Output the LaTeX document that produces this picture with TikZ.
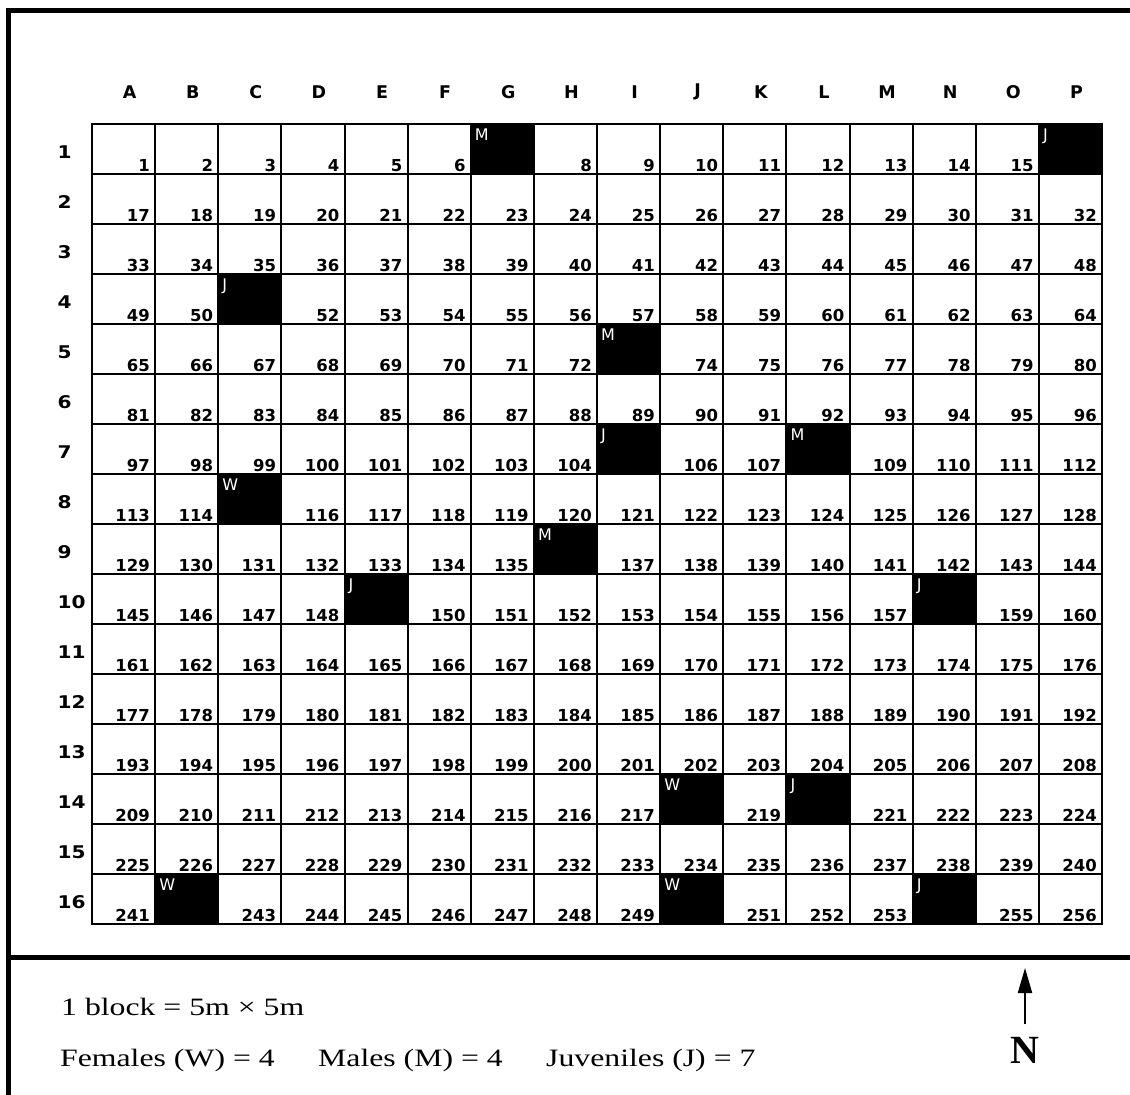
\documentclass[tikz,border=0pt]{standalone}
\usepackage{fontspec}
\setmainfont{Liberation Serif}
\newfontfamily\pixfont{DejaVu Sans}
\usepackage{tikz}
\usetikzlibrary{arrows.meta, positioning}

% occupied blocks: number/letter
\def\occupied{7/M,16/J,51/J,73/M,105/J,108/M,115/W,136/M,149/J,158/J,218/W,220/J,242/W,250/W,254/J}

\begin{document}
\begin{tikzpicture}[
  x=1pt, y=-1pt,
  cell/.style={draw, line width=2pt, minimum width=63.125pt, minimum height=50pt, inner sep=0pt, outer sep=0pt},
  num/.style={font=\pixfont\bfseries\fontsize{16.5}{17}\selectfont, anchor=base east, inner sep=0pt},
  tag/.style={font=\pixfont\fontsize{16}{16}\selectfont, text=white, anchor=north west, inner xsep=4pt, inner ysep=5pt},
  hdr/.style={font=\pixfont\bfseries\fontsize{17.5}{18}\selectfont},
  legend/.style={font=\fontsize{25}{30}\selectfont, anchor=base west, inner sep=0pt},
  frame/.style={line width=5pt}
]
\useasboundingbox (0,0) rectangle (1130,1095);

\foreach \n/\who in \occupied {\expandafter\xdef\csname occ\n\endcsname{\who}}

% Frame
\draw[frame] (1130,10) -- (8,10) -- (8,1095);
\draw[frame] (8,957) -- (1130,957);

% Column letters and row numbers
\foreach \l [count=\c] in {A,...,P}
  \node[hdr] (col\l) at ({92+63.125*(\c-0.5)+6}, 92) {\l};
\foreach \r in {1,...,16}
  \node[hdr, anchor=west] (row\r) at (54, {124+50*(\r-0.5)+3}) {\scalebox{1.15}[1]{\r}};

% Blocks
\foreach \r in {1,...,16}{
  \foreach \c in {1,...,16}{
    \pgfmathtruncatemacro\n{(\r-1)*16+\c}
    \ifcsname occ\n\endcsname
      \node[cell, fill=black] (c\n) at ({92+63.125*(\c-0.5)}, {124+50*(\r-0.5)}) {};
      \node[tag] (t\n) at (c\n.north west) {\csname occ\n\endcsname};
    \else
      \node[cell] (c\n) at ({92+63.125*(\c-0.5)}, {124+50*(\r-0.5)}) {};
      \node[num] (n\n) at ([xshift=-5pt, yshift=3pt]c\n.south east) {\n};
    \fi
  }
}

% Legend
\node[legend] (block) at (61,1015) {\scalebox{1.27}[1]{1 block = 5m × 5m}};
\node[legend] (fem) at (60,1066) {\scalebox{1.27}[1]{Females (W) = 4}};
\node[legend] (male) at (318,1066) {\scalebox{1.27}[1]{Males (M) = 4}};
\node[legend] (juv) at (546,1066) {\scalebox{1.27}[1]{Juveniles (J) = 7}};

% North arrow
\node[font=\fontsize{40}{40}\selectfont\bfseries] (north) at (1025,1050) {N};
\coordinate (tip) at (1025,968);
\draw[line width=2pt, -{Triangle[length=25pt, width=14pt]}] ([yshift=9pt]north.north) -- (tip);
\end{tikzpicture}
\end{document}
